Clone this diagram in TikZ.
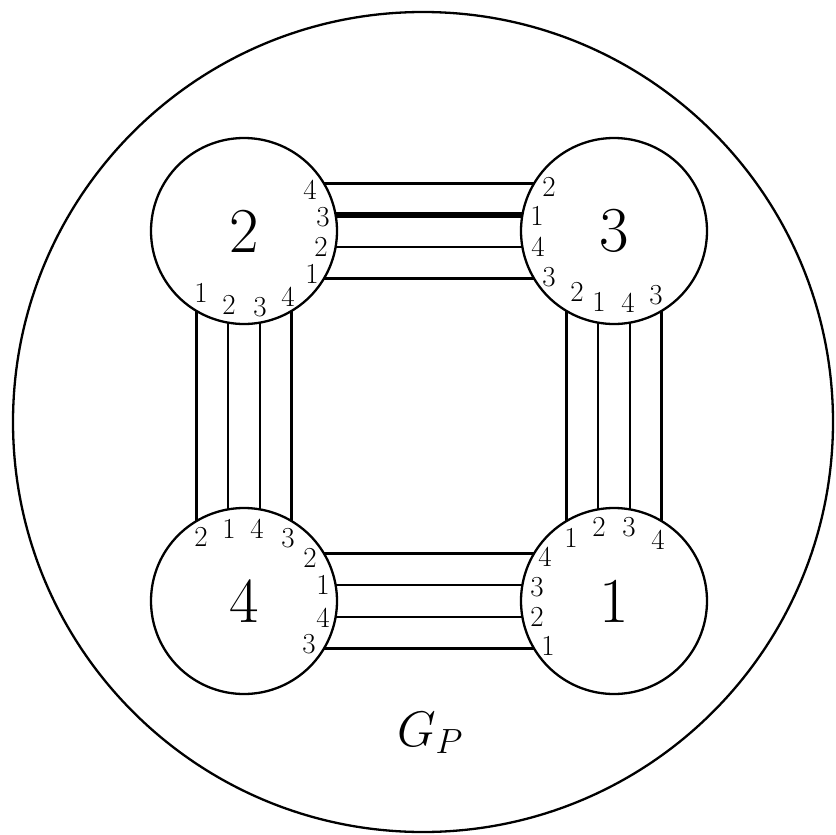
\RequirePackage{fix-cm}
\documentclass[tikz,border=0pt]{standalone}
\usetikzlibrary{calc}
\begin{document}
\begin{tikzpicture}[x=1pt,y=-1pt,
  vert/.style={circle,draw,line width=2.3pt,minimum size=186pt,inner sep=0pt,outer sep=0pt,
     font=\fontsize{64}{64}\selectfont},
  port/.style={inner sep=0pt,font=\fontsize{29}{29}\selectfont},
  wire/.style={line width=2.3pt},
  heavy/.style={line width=6.5pt}]
\useasboundingbox (0,0) rectangle (836,835);
\node[circle,draw,line width=2.3pt,minimum size=820pt,inner sep=0pt,outer sep=0pt] (outer) at (423,422) {};
\node[vert] (c2) at (244,231) {2};
\node[vert] (c3) at (614,231) {3};
\node[vert] (c4) at (244,601) {4};
\node[vert] (c1) at (614,601) {1};
\node[font=\fontsize{50}{50}\selectfont] (gp) at (430,733) {$G_P$};
% wires 2-3
\draw[wire]  ($(c2)+(79.95,-47.5)$) -- ($(c3)+(-79.95,-47.5)$);
\draw[heavy] ($(c2)+(91.65,-15.8)$) -- ($(c3)+(-91.65,-15.8)$);
\draw[wire]  ($(c2)+(91.65,15.8)$) -- ($(c3)+(-91.65,15.8)$);
\draw[wire]  ($(c2)+(79.95,47.5)$) -- ($(c3)+(-79.95,47.5)$);
% wires 4-1
\draw[wire] ($(c4)+(79.95,-47.5)$) -- ($(c1)+(-79.95,-47.5)$);
\draw[wire] ($(c4)+(91.65,-15.8)$) -- ($(c1)+(-91.65,-15.8)$);
\draw[wire] ($(c4)+(91.65,15.8)$) -- ($(c1)+(-91.65,15.8)$);
\draw[wire] ($(c4)+(79.95,47.5)$) -- ($(c1)+(-79.95,47.5)$);
% wires 2-4
\draw[wire] ($(c2)+(-47.5,79.95)$) -- ($(c4)+(-47.5,-79.95)$);
\draw[wire] ($(c2)+(-15.8,91.65)$) -- ($(c4)+(-15.8,-91.65)$);
\draw[wire] ($(c2)+(15.8,91.65)$) -- ($(c4)+(15.8,-91.65)$);
\draw[wire] ($(c2)+(47.5,79.95)$) -- ($(c4)+(47.5,-79.95)$);
% wires 3-1
\draw[wire] ($(c3)+(-47.5,79.95)$) -- ($(c1)+(-47.5,-79.95)$);
\draw[wire] ($(c3)+(-15.8,91.65)$) -- ($(c1)+(-15.8,-91.65)$);
\draw[wire] ($(c3)+(15.8,91.65)$) -- ($(c1)+(15.8,-91.65)$);
\draw[wire] ($(c3)+(47.5,79.95)$) -- ($(c1)+(47.5,-79.95)$);
% port labels circle 2
\node[port] (p2a) at ($(c2)+(66,-41)$) {4};
\node[port] (p2b) at ($(c2)+(79,-14)$) {3};
\node[port] (p2c) at ($(c2)+(77,16)$) {2};
\node[port] (p2d) at ($(c2)+(68,43)$) {1};
\node[port] (p2e) at ($(c2)+(-43,62)$) {1};
\node[port] (p2f) at ($(c2)+(-15,74)$) {2};
\node[port] (p2g) at ($(c2)+(16,76)$) {3};
\node[port] (p2h) at ($(c2)+(44,66)$) {4};
% port labels circle 3
\node[port] (p3a) at ($(c3)+(-65,-44)$) {2};
\node[port] (p3b) at ($(c3)+(-77,-15)$) {1};
\node[port] (p3c) at ($(c3)+(-76,16)$) {4};
\node[port] (p3d) at ($(c3)+(-65,46)$) {3};
\node[port] (p3e) at ($(c3)+(-37,61)$) {2};
\node[port] (p3f) at ($(c3)+(-15,71)$) {1};
\node[port] (p3g) at ($(c3)+(14,72)$) {4};
\node[port] (p3h) at ($(c3)+(42,64)$) {3};
% port labels circle 4
\node[port] (p4a) at ($(c4)+(-43,-64)$) {2};
\node[port] (p4b) at ($(c4)+(-15,-72)$) {1};
\node[port] (p4c) at ($(c4)+(13,-72)$) {4};
\node[port] (p4d) at ($(c4)+(44,-63)$) {3};
\node[port] (p4e) at ($(c4)+(66,-43)$) {2};
\node[port] (p4f) at ($(c4)+(79,-16)$) {1};
\node[port] (p4g) at ($(c4)+(79,17)$) {4};
\node[port] (p4h) at ($(c4)+(65,43)$) {3};
% port labels circle 1
\node[port] (p1a) at ($(c1)+(-43,-63)$) {1};
\node[port] (p1b) at ($(c1)+(-15,-74)$) {2};
\node[port] (p1c) at ($(c1)+(15,-74)$) {3};
\node[port] (p1d) at ($(c1)+(44,-61)$) {4};
\node[port] (p1e) at ($(c1)+(-69,-44)$) {4};
\node[port] (p1f) at ($(c1)+(-77,-14)$) {3};
\node[port] (p1g) at ($(c1)+(-77,16)$) {2};
\node[port] (p1h) at ($(c1)+(-66,45)$) {1};
\end{tikzpicture}
\end{document}
